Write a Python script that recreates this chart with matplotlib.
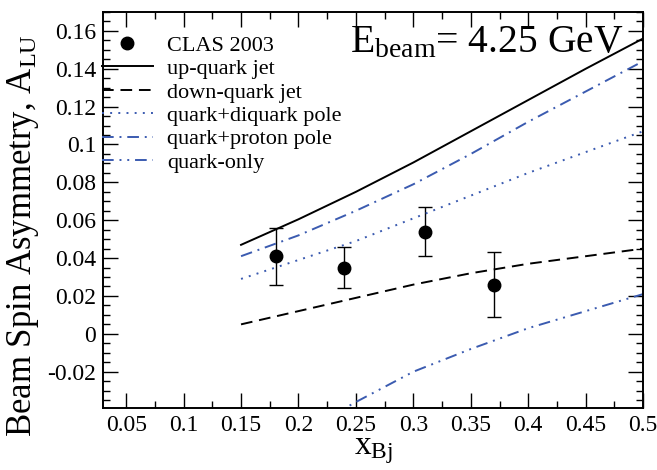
import numpy as np
import matplotlib
matplotlib.use("Agg")
import matplotlib.pyplot as plt
from matplotlib.ticker import MultipleLocator, FuncFormatter

plt.rcParams['font.family'] = ['Liberation Serif', 'DejaVu Serif']
plt.rcParams['mathtext.fontset'] = 'custom'
plt.rcParams['mathtext.rm'] = 'Liberation Serif'
plt.rcParams['mathtext.it'] = 'Liberation Serif:italic'

# CLAS 2003 data
x_data = [0.18, 0.24, 0.31, 0.37]
y_data = [0.041, 0.035, 0.054, 0.026]
y_err = [0.015, 0.011, 0.013, 0.017]

# model curves
x_curve = [0.15, 0.2, 0.25, 0.3, 0.35, 0.4, 0.45, 0.5]
up_jet = [0.047, 0.0605, 0.075, 0.0905, 0.107, 0.1235, 0.140, 0.156]
down_jet = [0.005, 0.012, 0.019, 0.026, 0.032, 0.037, 0.041, 0.045]
diquark_pole = [0.029, 0.039, 0.049, 0.061, 0.073, 0.085, 0.096, 0.107]
proton_pole = [0.041, 0.052, 0.065, 0.079, 0.095, 0.112, 0.128, 0.144]
quark_only = [-0.070, -0.053, -0.036, -0.020, -0.008, 0.003, 0.012, 0.021]

blue = '#3b5bb0'

fig = plt.figure(figsize=(6.57, 4.70), dpi=100)
ax = fig.add_axes([0.157, 0.1326, 0.822, 0.842])

ax.errorbar(x_data, y_data, yerr=y_err, fmt='none', ecolor='black',
            elinewidth=1.0, capsize=5, capthick=1.0)
pts, = ax.plot(x_data, y_data, 'o', color='black', markersize=9, linestyle='none')
l1, = ax.plot(x_curve, up_jet, '-', color='black', lw=1.4)
l2, = ax.plot(x_curve, down_jet, color='black', lw=1.4, dashes=(6, 3.5))
l3, = ax.plot(x_curve, diquark_pole, color=blue, lw=1.4, dashes=(1, 3.2))
l4, = ax.plot(x_curve, proton_pole, color=blue, lw=1.4, dashes=(6, 3, 1, 3))
l5, = ax.plot(x_curve, quark_only, color=blue, lw=1.4, dashes=(6, 3, 1, 3, 1, 3))

ax.set_xlim(0.03, 0.5)
ax.set_ylim(-0.039, 0.17)
ax.xaxis.set_major_locator(MultipleLocator(0.05))
ax.xaxis.set_minor_locator(MultipleLocator(0.025))
ax.yaxis.set_major_locator(MultipleLocator(0.02))
ax.yaxis.set_minor_locator(MultipleLocator(0.005))
fmt = FuncFormatter(lambda v, p: '%g' % round(v, 4))
ax.xaxis.set_major_formatter(fmt)
ax.yaxis.set_major_formatter(fmt)
ax.tick_params(which='both', direction='in', top=True, right=True, labelsize=17)
ax.tick_params(which='major', length=11, width=1.0)
ax.tick_params(which='minor', length=5, width=1.0)
ax.tick_params(axis='x', pad=5)
ax.tick_params(axis='y', pad=5)
for s in ax.spines.values():
    s.set_linewidth(1.4)

ax.set_xlabel(r'x$_{\mathrm{Bj}}$', fontsize=24)
ax.xaxis.set_label_coords(0.5, -0.07)
ax.set_ylabel(r'Beam Spin Asymmetry, A$_{\mathrm{LU}}$', fontsize=25)
ax.yaxis.set_label_coords(-0.116, 0.435)

ax.text(0.458, 0.922, r'E$_{\mathrm{beam}}$= 4.25 GeV', transform=ax.transAxes,
        fontsize=28.5, va='center', ha='left')

ax.legend([pts, l1, l2, l3, l4, l5],
          ['CLAS 2003', 'up-quark jet', 'down-quark jet', 'quark+diquark pole',
           'quark+proton pole', 'quark-only'],
          loc='upper left', bbox_to_anchor=(-0.027, 0.975), frameon=False,
          fontsize=16, handlelength=2.3, handletextpad=0.65, labelspacing=0.13,
          borderaxespad=0.2)

fig.savefig('out.png', dpi=100)
